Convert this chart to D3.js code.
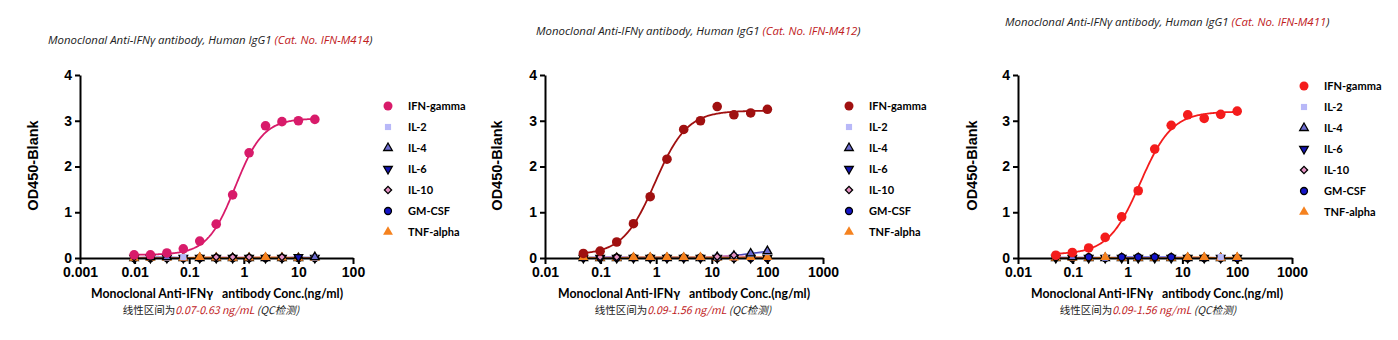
<!DOCTYPE html>
<html><head><meta charset="utf-8">
<script src="https://cdn.jsdelivr.net/npm/d3@7"></script>
<style>
html,body{margin:0;padding:0;background:#fff;}
svg{display:block;}
</style></head>
<body>
<svg id="chart" width="1398" height="340"></svg>
<script>
// ---------------- DATA ----------------
const seriesNames = ["IFN-gamma","IL-2","IL-4","IL-6","IL-10","GM-CSF","TNF-alpha"];
const titleMain = "Monoclonal Anti-IFNγ antibody, Human IgG1  ";
const catNos = ["(Cat. No. IFN-M414", "(Cat. No. IFN-M412", "(Cat. No. IFN-M411"];
const linearRanges = ["0.07-0.63 ng/mL", "0.09-1.56 ng/mL", "0.09-1.56 ng/mL"];
const yAxisTitle = "OD450-Blank";
const xAxisTitle = "Monoclonal Anti-IFNγ   antibody Conc.(ng/ml)";
const footerPrefix = "线性区间为";
const footerSuffix = " (QC检测)";

const xTicks1 = [0.001, 0.01, 0.1, 1, 10, 100];
const xTickLabels1 = ["0.001","0.01","0.1","1","10","100"];
const xTicks23 = [0.01, 0.1, 1, 10, 100, 1000];
const xTickLabels23 = ["0.01","0.1","1","10","100","1000"];
const yTicks = [0, 1, 2, 3, 4];

// concentrations (ng/ml)
const conc1 = [0.0098, 0.0195, 0.039, 0.078, 0.156, 0.3125, 0.625, 1.25, 2.5, 5, 10, 20];
const conc23 = [0.049, 0.098, 0.195, 0.39, 0.78, 1.5625, 3.125, 6.25, 12.5, 25, 50, 100];

// Panel 1 (IFN-M414)
const ifnP1   = [0.07, 0.07, 0.11, 0.20, 0.37, 0.74, 1.38, 2.30, 2.89, 2.98, 3.00, 3.03];
const il2P1   = [0.00, 0.00, 0.01, 0.02, 0.00, 0.00, 0.00, 0.00, 0.00, 0.00, 0.00, 0.01];
const il4P1   = [0.00, 0.02, 0.02, 0.00, 0.00, 0.00, 0.00, 0.00, 0.00, 0.00, 0.00, 0.02];
const il6P1   = [0.00, 0.00, 0.00, 0.00, 0.00, 0.00, 0.00, 0.00, 0.00, 0.00, 0.02, 0.00];
const il10P1  = [0.02, 0.01, 0.00, 0.00, 0.01, 0.02, 0.02, 0.02, 0.01, 0.02, 0.01, 0.00];
const gmcsfP1 = [0.00, 0.00, 0.00, 0.00, 0.00, 0.00, 0.00, 0.00, 0.00, 0.00, 0.00, 0.00];
const tnfP1   = [0.00, 0.00, 0.00, 0.00, 0.02, 0.01, 0.00, 0.01, 0.02, 0.01, 0.00, 0.00];
const fitP1   = [0.07, 3.05, 0.70, 1.7]; // bottom, top, EC50, Hill

// Panel 2 (IFN-M412)
const ifnP2   = [0.10, 0.15, 0.35, 0.75, 1.34, 2.16, 2.81, 3.00, 3.31, 3.13, 3.17, 3.25];
const il2P2   = [0.00, 0.00, 0.00, 0.00, 0.00, 0.00, 0.00, 0.01, 0.03, 0.06, 0.09, 0.13];
const il4P2   = [0.00, 0.00, 0.00, 0.00, 0.00, 0.00, 0.00, 0.00, 0.02, 0.05, 0.10, 0.15];
const il6P2   = [0.00, 0.00, 0.00, 0.00, 0.00, 0.00, 0.00, 0.00, 0.00, 0.00, 0.00, 0.00];
const il10P2  = [0.00, 0.02, 0.02, 0.01, 0.01, 0.01, 0.01, 0.01, 0.03, 0.06, 0.02, 0.02];
const gmcsfP2 = [0.01, 0.01, 0.01, 0.01, 0.01, 0.01, 0.01, 0.01, 0.00, 0.00, 0.00, 0.00];
const tnfP2   = [0.02, 0.00, 0.00, 0.02, 0.02, 0.02, 0.02, 0.02, 0.01, 0.01, 0.02, 0.02];
const fitP2   = [0.07, 3.22, 0.95, 1.5];

// Panel 3 (IFN-M411)
const ifnP3   = [0.06, 0.12, 0.22, 0.45, 0.90, 1.47, 2.38, 2.90, 3.13, 3.05, 3.14, 3.21];
const il2P3   = [0.00, 0.00, 0.00, 0.01, 0.00, 0.00, 0.00, 0.00, 0.00, 0.00, 0.02, 0.00];
const il4P3   = [0.00, 0.02, 0.00, 0.00, 0.00, 0.00, 0.00, 0.00, 0.00, 0.00, 0.00, 0.00];
const il6P3   = [0.00, 0.00, 0.00, 0.00, 0.00, 0.00, 0.00, 0.00, 0.00, 0.00, 0.00, 0.00];
const il10P3  = [0.00, 0.00, 0.00, 0.00, 0.00, 0.00, 0.00, 0.01, 0.01, 0.01, 0.00, 0.00];
const gmcsfP3 = [0.02, 0.00, 0.02, 0.00, 0.02, 0.02, 0.02, 0.02, 0.00, 0.00, 0.00, 0.00];
const tnfP3   = [0.00, 0.00, 0.00, 0.02, 0.00, 0.00, 0.00, 0.00, 0.02, 0.02, 0.00, 0.02];
const fitP3   = [0.08, 3.20, 1.70, 1.5];

// ---------------- STYLE / LAYOUT ----------------
const ifnColors = ["#d81b6a", "#a01010", "#f41c1c"];
const smallStyles = [
  {fill:"#b8b8f8", stroke:"none", line:"#9a9af2", sym:d3.symbolSquare, size:38, rot:0},
  {fill:"#6c6cd0", stroke:"#000", line:"#4848b8", sym:d3.symbolTriangle, size:32, rot:0},
  {fill:"#1414b4", stroke:"#000", line:"#1414a0", sym:d3.symbolTriangle, size:32, rot:180},
  {fill:"#e492c4", stroke:"#000", line:"#d87ab8", sym:d3.symbolSquare, size:26, rot:45},
  {fill:"#1414c8", stroke:"#000", line:"#1414d0", sym:d3.symbolCircle, size:38, rot:0},
  {fill:"#f5821f", stroke:"none", line:"#f5821f", sym:d3.symbolTriangle, size:42, rot:0}
];

const panels = [
  {x0:80, x1:353, domain:[0.001,100], ticks:xTicks1, tickLabels:xTickLabels1, conc:conc1,
   ifn:ifnP1, small:[il2P1,il4P1,il6P1,il10P1,gmcsfP1,tnfP1], fit:fitP1,
   yTitleX:33, titleX:48, titleY:44, legX:388, legY:106, xTitleCx:217, footCx:211},
  {x0:545, x1:823, domain:[0.01,1000], ticks:xTicks23, tickLabels:xTickLabels23, conc:conc23,
   ifn:ifnP2, small:[il2P2,il4P2,il6P2,il10P2,gmcsfP2,tnfP2], fit:fitP2,
   yTitleX:497, titleX:536, titleY:35, legX:849, legY:106, xTitleCx:684, footCx:683},
  {x0:1018, x1:1292, domain:[0.01,1000], ticks:xTicks23, tickLabels:xTickLabels23, conc:conc23,
   ifn:ifnP3, small:[il2P3,il4P3,il6P3,il10P3,gmcsfP3,tnfP3], fit:fitP3,
   yTitleX:972, titleX:1005, titleY:26, legX:1304, legY:86, xTitleCx:1157, footCx:1148}
];
const yBottom = 258, yTop = 75;
const svg = d3.select("#chart");

panels.forEach((p, pi) => {
  const g = svg.append("g");
  const x = d3.scaleLog().domain(p.domain).range([p.x0, p.x1]);
  const y = d3.scaleLinear().domain([0,4]).range([yBottom, yTop]);
  const col = ifnColors[pi];

  // title
  const t = g.append("text").attr("x", p.titleX).attr("y", p.titleY)
    .style("font-family","'Open Sans', sans-serif").style("font-style","italic")
    .style("font-size","11.4px").attr("fill","#222");
  t.append("tspan").text(titleMain);
  t.append("tspan").attr("fill","#c0201c").text(catNos[pi]);
  t.append("tspan").text(")");

  // fit curve (4-parameter logistic from fitted parameters)
  const [bot, top, ec50, hill] = p.fit;
  const lo = Math.log10(p.conc[0]), hi = Math.log10(p.conc[p.conc.length-1]);
  const curvePts = d3.range(0, 201).map(i => {
    const c = Math.pow(10, lo + (hi-lo)*i/200);
    return [c, bot + (top-bot)/(1+Math.pow(ec50/c, hill))];
  });
  const line = d3.line().x(d => x(d[0])).y(d => y(d[1]));

  // small-series lines
  p.small.forEach((vals, si) => {
    g.append("path").datum(p.conc.map((c,i)=>[c, vals[i]]))
      .attr("d", line).attr("fill","none")
      .attr("stroke", smallStyles[si].line).attr("stroke-width", 1.4);
  });

  // axes
  const yAxis = g.append("g").attr("transform", `translate(${p.x0},0)`)
    .call(d3.axisLeft(y).tickValues(yTicks).tickFormat(d3.format("d")).tickSize(5).tickSizeOuter(0).tickPadding(3));
  const xAxis = g.append("g").attr("transform", `translate(0,${yBottom})`)
    .call(d3.axisBottom(x).tickValues(p.ticks).tickFormat((d,i)=>p.tickLabels[i]).tickSize(6).tickSizeOuter(0).tickPadding(3));
  [yAxis, xAxis].forEach(a => {
    a.selectAll("path,line").attr("stroke","#000").attr("stroke-width",2);
    a.selectAll("text").attr("fill","#000")
      .style("font-family","'Liberation Sans', Arial, sans-serif")
      .style("font-weight","bold").style("font-size","14px");
  });

  // IFN curve and points
  g.append("path").datum(curvePts).attr("d", line).attr("fill","none")
    .attr("stroke", col).attr("stroke-width", 1.8);

  // small-series markers, sorted so the highest reading is drawn on top
  const marks = [];
  p.small.forEach((vals, si) => vals.forEach((v,i) => marks.push({si, c:p.conc[i], v, order: v*100 + si*0.001})));
  marks.sort((a,b) => a.order - b.order);
  g.selectAll(null).data(marks).enter().append("path")
    .attr("d", d => d3.symbol().type(smallStyles[d.si].sym).size(smallStyles[d.si].size)())
    .attr("transform", d => `translate(${x(d.c)},${y(d.v)}) rotate(${smallStyles[d.si].rot})`)
    .attr("fill", d => smallStyles[d.si].fill)
    .attr("stroke", d => smallStyles[d.si].stroke).attr("stroke-width", 1.3);

  g.selectAll(null).data(p.conc.map((c,i)=>[c,p.ifn[i]])).enter().append("circle")
    .attr("cx", d => x(d[0])).attr("cy", d => y(d[1])).attr("r", 4.8).attr("fill", col);

  // y title
  g.append("text").attr("transform", `translate(${p.yTitleX},${(yBottom+yTop)/2 - 1}) rotate(-90)`)
    .attr("text-anchor","middle").attr("dy","0.35em")
    .style("font-family","'Liberation Sans', Arial, sans-serif").style("font-weight","bold")
    .style("font-size","14.5px").text(yAxisTitle);

  // x title
  g.append("text").attr("x", p.xTitleCx).attr("y", 298).attr("text-anchor","middle")
    .style("font-family","Lato, sans-serif").style("font-weight","bold")
    .style("font-size","12.3px").style("white-space","pre").attr("xml:space","preserve").text(xAxisTitle);

  // footer
  const f = g.append("text").attr("x", p.footCx).attr("y", 314).attr("text-anchor","middle")
    .style("font-family","'Noto Sans CJK SC', 'Open Sans', sans-serif").style("font-size","10.5px")
    .attr("fill","#222");
  f.append("tspan").text(footerPrefix);
  f.append("tspan").attr("fill","#c0201c").style("font-style","italic").text(linearRanges[pi]);
  f.append("tspan").style("font-style","italic").text(footerSuffix);

  // legend
  const leg = g.append("g");
  seriesNames.forEach((name, k) => {
    const ly = p.legY + k*21;
    if (k === 0) {
      leg.append("circle").attr("cx", p.legX).attr("cy", ly).attr("r", 4.5).attr("fill", col);
    } else {
      const s = smallStyles[k-1];
      leg.append("path").attr("d", d3.symbol().type(s.sym).size(s.size)())
        .attr("transform", `translate(${p.legX},${ly}) rotate(${s.rot})`)
        .attr("fill", s.fill).attr("stroke", s.stroke).attr("stroke-width", 1.3);
    }
    leg.append("text").attr("x", p.legX + 20).attr("y", ly).attr("dy","0.35em")
      .style("font-family","Lato, sans-serif").style("font-weight","bold")
      .style("font-size","11px").text(name);
  });
});
</script>
</body></html>
